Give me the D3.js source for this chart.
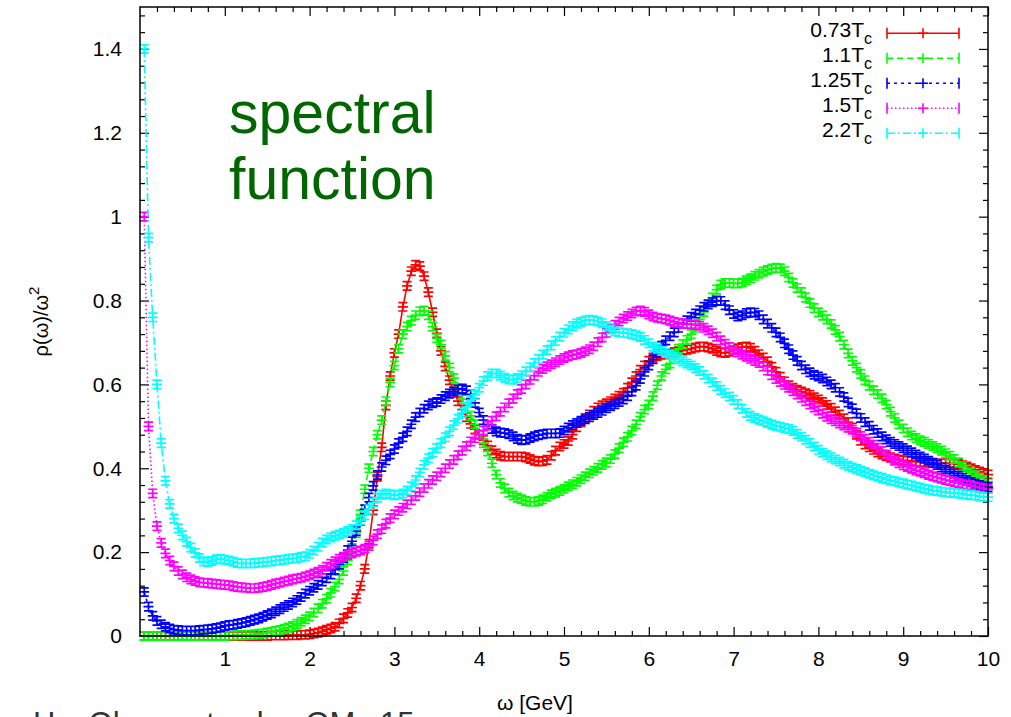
<!DOCTYPE html>
<html lang="en">
<head>
  <meta charset="UTF-8">
  <title>Spectral function at several temperatures</title>
  <script src="https://d3js.org/d3.v7.min.js" charset="utf-8"></script>
  <style>
    body { margin: 0; background: #fff; }
    text { font-family: "Liberation Sans", Arial, Helvetica, sans-serif; }
  </style>
</head>
<body>
<div id="chart"></div>
<script>

// omega grid [GeV], one row per GeV
var omega = [
  0.05,0.1,0.15,0.2,0.25,0.3,0.35,0.4,0.45,0.5,0.55,0.6,0.65,0.7,0.75,0.8,0.85,0.9,0.95,1.0,
  1.05,1.1,1.15,1.2,1.25,1.3,1.35,1.4,1.45,1.5,1.55,1.6,1.65,1.7,1.75,1.8,1.85,1.9,1.95,2.0,
  2.05,2.1,2.15,2.2,2.25,2.3,2.35,2.4,2.45,2.5,2.55,2.6,2.65,2.7,2.75,2.8,2.85,2.9,2.95,3.0,
  3.05,3.1,3.15,3.2,3.25,3.3,3.35,3.4,3.45,3.5,3.55,3.6,3.65,3.7,3.75,3.8,3.85,3.9,3.95,4.0,
  4.05,4.1,4.15,4.2,4.25,4.3,4.35,4.4,4.45,4.5,4.55,4.6,4.65,4.7,4.75,4.8,4.85,4.9,4.95,5.0,
  5.05,5.1,5.15,5.2,5.25,5.3,5.35,5.4,5.45,5.5,5.55,5.6,5.65,5.7,5.75,5.8,5.85,5.9,5.95,6.0,
  6.05,6.1,6.15,6.2,6.25,6.3,6.35,6.4,6.45,6.5,6.55,6.6,6.65,6.7,6.75,6.8,6.85,6.9,6.95,7.0,
  7.05,7.1,7.15,7.2,7.25,7.3,7.35,7.4,7.45,7.5,7.55,7.6,7.65,7.7,7.75,7.8,7.85,7.9,7.95,8.0,
  8.05,8.1,8.15,8.2,8.25,8.3,8.35,8.4,8.45,8.5,8.55,8.6,8.65,8.7,8.75,8.8,8.85,8.9,8.95,9.0,
  9.05,9.1,9.15,9.2,9.25,9.3,9.35,9.4,9.45,9.5,9.55,9.6,9.65,9.7,9.75,9.8,9.85,9.9,9.95,10.0
];

// rho(omega)/omega^2 for each temperature
var rhoT073 = [
  0,0,0,0,0,0,0,0,0,0,0,0,0,0,0,0,0,0,0,0,
  0,0,0,0,0,0,0,0,0,0,0.001,0.001,0.001,0.001,0.002,0.002,0.002,0.003,0.003,0.004,
  0.006,0.008,0.011,0.015,0.018,0.022,0.03,0.042,0.055,0.068,0.09,0.12,0.16,0.22,0.3,0.38,0.45,0.55,0.62,0.675,
  0.72,0.785,0.835,0.87,0.885,0.882,0.858,0.82,0.772,0.722,0.68,0.643,0.61,0.583,0.56,0.54,0.522,0.506,0.493,0.48,
  0.467,0.454,0.443,0.435,0.43,0.428,0.428,0.428,0.428,0.428,0.426,0.422,0.418,0.416,0.417,0.42,0.43,0.442,0.452,0.458,
  0.465,0.48,0.498,0.51,0.52,0.528,0.537,0.545,0.55,0.555,0.56,0.566,0.573,0.58,0.592,0.605,0.62,0.635,0.645,0.656,
  0.664,0.668,0.671,0.673,0.675,0.677,0.679,0.681,0.683,0.685,0.688,0.69,0.69,0.688,0.685,0.68,0.676,0.675,0.678,0.682,
  0.686,0.689,0.69,0.687,0.68,0.672,0.664,0.655,0.642,0.63,0.618,0.607,0.598,0.592,0.587,0.583,0.579,0.575,0.569,0.564,
  0.558,0.551,0.544,0.536,0.528,0.519,0.51,0.497,0.48,0.466,0.457,0.45,0.444,0.438,0.433,0.429,0.426,0.423,0.421,0.419,
  0.418,0.417,0.416,0.415,0.414,0.413,0.412,0.412,0.412,0.412,0.412,0.411,0.41,0.407,0.404,0.4,0.396,0.392,0.388,0.385
];
var rhoT110 = [
  0,0,0,0,0,0,0,0,0,0,0,0,0,0,0,0,0,0,0,0,
  0.001,0.001,0.002,0.002,0.003,0.003,0.004,0.005,0.006,0.008,0.01,0.012,0.014,0.017,0.02,0.024,0.029,0.034,0.04,0.047,
  0.056,0.066,0.077,0.089,0.103,0.118,0.135,0.155,0.18,0.21,0.245,0.29,0.35,0.4,0.44,0.48,0.515,0.56,0.605,0.645,
  0.685,0.72,0.738,0.752,0.765,0.774,0.776,0.765,0.738,0.71,0.695,0.668,0.64,0.615,0.59,0.565,0.545,0.525,0.505,0.48,
  0.46,0.44,0.412,0.385,0.365,0.352,0.342,0.335,0.33,0.326,0.322,0.32,0.32,0.322,0.326,0.332,0.338,0.342,0.346,0.351,
  0.357,0.362,0.368,0.374,0.381,0.388,0.394,0.401,0.408,0.414,0.422,0.434,0.448,0.462,0.475,0.49,0.505,0.523,0.54,0.552,
  0.572,0.598,0.62,0.636,0.65,0.67,0.685,0.696,0.706,0.72,0.735,0.755,0.773,0.79,0.807,0.826,0.838,0.842,0.842,0.841,
  0.841,0.843,0.848,0.853,0.859,0.864,0.869,0.873,0.876,0.878,0.877,0.87,0.855,0.842,0.83,0.82,0.807,0.794,0.782,0.772,
  0.764,0.755,0.744,0.73,0.714,0.695,0.674,0.656,0.64,0.625,0.61,0.597,0.586,0.577,0.567,0.552,0.535,0.52,0.505,0.495,
  0.486,0.478,0.472,0.467,0.463,0.458,0.453,0.448,0.442,0.436,0.43,0.422,0.414,0.405,0.397,0.39,0.383,0.377,0.372,0.368
];
var rhoT125 = [
  0.105,0.07,0.048,0.036,0.028,0.022,0.018,0.015,0.014,0.013,0.013,0.013,0.013,0.014,0.015,0.016,0.017,0.019,0.021,0.024,
  0.026,0.027,0.029,0.031,0.033,0.036,0.039,0.042,0.046,0.05,0.054,0.059,0.064,0.069,0.074,0.08,0.086,0.093,0.101,0.108,
  0.115,0.122,0.13,0.138,0.147,0.158,0.17,0.186,0.205,0.226,0.25,0.275,0.302,0.33,0.358,0.384,0.403,0.419,0.433,0.446,
  0.46,0.474,0.488,0.505,0.522,0.533,0.542,0.55,0.555,0.558,0.565,0.572,0.578,0.583,0.588,0.59,0.586,0.576,0.556,0.533,
  0.515,0.503,0.494,0.488,0.485,0.484,0.481,0.476,0.47,0.467,0.468,0.472,0.476,0.479,0.481,0.483,0.483,0.483,0.484,0.49,
  0.497,0.503,0.508,0.513,0.517,0.522,0.527,0.532,0.537,0.543,0.548,0.553,0.558,0.564,0.572,0.583,0.597,0.613,0.63,0.645,
  0.66,0.675,0.692,0.705,0.715,0.724,0.735,0.745,0.753,0.761,0.769,0.777,0.785,0.791,0.796,0.8,0.799,0.789,0.777,0.768,
  0.762,0.765,0.77,0.772,0.771,0.765,0.755,0.745,0.735,0.724,0.712,0.698,0.684,0.67,0.656,0.645,0.636,0.629,0.623,0.619,
  0.614,0.607,0.6,0.592,0.582,0.57,0.557,0.543,0.531,0.52,0.51,0.501,0.492,0.484,0.476,0.469,0.463,0.458,0.453,0.448,
  0.443,0.438,0.433,0.428,0.423,0.418,0.413,0.408,0.402,0.397,0.392,0.387,0.382,0.377,0.372,0.367,0.363,0.36,0.357,0.355
];
var rhoT150 = [
  1.0,0.5,0.34,0.262,0.222,0.197,0.18,0.166,0.155,0.147,0.14,0.135,0.131,0.128,0.127,0.126,0.125,0.124,0.123,0.122,
  0.121,0.119,0.117,0.116,0.115,0.114,0.114,0.115,0.117,0.119,0.122,0.125,0.127,0.13,0.132,0.135,0.137,0.139,0.142,0.145,
  0.149,0.153,0.158,0.165,0.172,0.178,0.184,0.189,0.193,0.197,0.201,0.204,0.208,0.215,0.228,0.243,0.255,0.268,0.281,0.29,
  0.298,0.306,0.314,0.324,0.334,0.343,0.353,0.363,0.372,0.381,0.39,0.4,0.41,0.42,0.431,0.442,0.453,0.464,0.472,0.48,
  0.49,0.502,0.513,0.524,0.535,0.545,0.555,0.566,0.577,0.589,0.6,0.611,0.621,0.63,0.637,0.643,0.648,0.653,0.658,0.663,
  0.667,0.67,0.672,0.675,0.679,0.684,0.691,0.701,0.712,0.723,0.733,0.742,0.75,0.757,0.763,0.769,0.774,0.776,0.773,0.767,
  0.762,0.759,0.757,0.755,0.752,0.749,0.747,0.745,0.744,0.743,0.742,0.74,0.735,0.729,0.722,0.714,0.705,0.697,0.689,0.682,
  0.676,0.671,0.666,0.661,0.656,0.651,0.643,0.633,0.622,0.613,0.606,0.599,0.592,0.584,0.576,0.568,0.56,0.552,0.545,0.538,
  0.53,0.523,0.517,0.512,0.507,0.502,0.497,0.492,0.485,0.477,0.47,0.463,0.456,0.449,0.441,0.433,0.425,0.418,0.412,0.407,
  0.403,0.399,0.395,0.392,0.388,0.384,0.381,0.378,0.375,0.372,0.37,0.367,0.365,0.362,0.36,0.358,0.356,0.354,0.352,0.351
];
var rhoT220 = [
  1.4,0.95,0.76,0.6,0.46,0.37,0.315,0.28,0.257,0.24,0.225,0.211,0.198,0.186,0.178,0.176,0.179,0.183,0.184,0.182,
  0.18,0.177,0.174,0.173,0.173,0.173,0.174,0.175,0.176,0.177,0.178,0.18,0.181,0.182,0.184,0.185,0.186,0.188,0.19,0.196,
  0.204,0.213,0.223,0.23,0.235,0.239,0.242,0.246,0.25,0.255,0.264,0.276,0.288,0.302,0.318,0.33,0.337,0.34,0.338,0.336,
  0.337,0.34,0.347,0.357,0.372,0.39,0.408,0.424,0.437,0.448,0.46,0.474,0.488,0.503,0.518,0.532,0.546,0.56,0.575,0.592,
  0.608,0.62,0.626,0.626,0.621,0.616,0.612,0.611,0.615,0.622,0.631,0.641,0.651,0.661,0.671,0.682,0.693,0.704,0.714,0.723,
  0.731,0.739,0.745,0.749,0.752,0.754,0.753,0.75,0.746,0.739,0.731,0.726,0.724,0.723,0.722,0.72,0.717,0.713,0.706,0.698,
  0.69,0.685,0.68,0.675,0.67,0.665,0.66,0.655,0.65,0.645,0.639,0.632,0.623,0.614,0.605,0.596,0.587,0.579,0.571,0.563,
  0.553,0.542,0.532,0.525,0.52,0.516,0.512,0.508,0.504,0.501,0.499,0.496,0.494,0.489,0.482,0.475,0.468,0.46,0.452,0.444,
  0.437,0.431,0.426,0.421,0.416,0.411,0.406,0.402,0.398,0.394,0.391,0.387,0.383,0.38,0.377,0.374,0.371,0.369,0.366,0.364,
  0.361,0.359,0.356,0.354,0.351,0.349,0.347,0.346,0.344,0.343,0.342,0.341,0.34,0.339,0.337,0.336,0.335,0.333,0.332,0.331
];

var tempLabels = ["0.73", "1.1", "1.25", "1.5", "2.2"];
var errBar = [0.01, 0.01, 0.01, 0.01, 0.01];
var xTicks = [1, 2, 3, 4, 5, 6, 7, 8, 9, 10];
var yTicks = [0, 0.2, 0.4, 0.6, 0.8, 1, 1.2, 1.4];
var yTickLabels = ["0", "0.2", "0.4", "0.6", "0.8", "1", "1.2", "1.4"];

var seriesData = [rhoT073, rhoT110, rhoT125, rhoT150, rhoT220];
var colors = ["#ff0000", "#00ff00", "#0000ff", "#ff00ff", "#00ffff"];
var dashes = [null, "6,4", "3,4", "1.5,2.5", "8,3,2,3"];

var width = 1011, height = 717;
var margin = {top: 7, right: 23, bottom: 81, left: 140};

var svg = d3.select('#chart').append('svg')
  .attr('width', width)
  .attr('height', height);

var x = d3.scaleLinear()
  .domain([0, 10])
  .range([margin.left, width - margin.right]);

var y = d3.scaleLinear()
  .domain([0, 1.5])
  .range([height - margin.bottom, margin.top]);

var xMinor = d3.range(0, 10.01, 0.2).filter(v => Math.abs(v - Math.round(v)) > 1e-6);
var yMinor = d3.range(0, 1.501, 0.04).filter(v => Math.abs(v * 5 - Math.round(v * 5)) > 1e-6);

function styleAxis(g) {
  g.select('.domain').remove();
  g.attr('font-size', 21).attr('font-family', null);
  g.selectAll('line').attr('stroke', '#000').attr('stroke-width', 1.2);
  g.selectAll('text').attr('fill', '#000');
}

// ticks on all four sides, pointing inward
svg.append('g')
  .attr('transform', 'translate(0,' + y(0) + ')')
  .call(d3.axisBottom(x).tickValues(xTicks).tickSize(-9).tickPadding(15).tickFormat(d3.format('d')))
  .call(styleAxis);
svg.append('g')
  .attr('transform', 'translate(0,' + y(0) + ')')
  .call(d3.axisBottom(x).tickValues(xMinor).tickSize(-5).tickFormat(''))
  .call(styleAxis);
svg.append('g')
  .attr('transform', 'translate(0,' + y(1.5) + ')')
  .call(d3.axisTop(x).tickValues(xTicks).tickSize(-9).tickFormat(''))
  .call(styleAxis);
svg.append('g')
  .attr('transform', 'translate(0,' + y(1.5) + ')')
  .call(d3.axisTop(x).tickValues(xMinor).tickSize(-5).tickFormat(''))
  .call(styleAxis);

svg.append('g')
  .attr('transform', 'translate(' + x(0) + ',0)')
  .call(d3.axisLeft(y).tickValues(yTicks).tickSize(-9).tickPadding(18)
    .tickFormat((d, i) => yTickLabels[i]))
  .call(styleAxis);
svg.append('g')
  .attr('transform', 'translate(' + x(0) + ',0)')
  .call(d3.axisLeft(y).tickValues(yMinor).tickSize(-5).tickFormat(''))
  .call(styleAxis);
svg.append('g')
  .attr('transform', 'translate(' + x(10) + ',0)')
  .call(d3.axisRight(y).tickValues(yTicks).tickSize(-9).tickFormat(''))
  .call(styleAxis);
svg.append('g')
  .attr('transform', 'translate(' + x(10) + ',0)')
  .call(d3.axisRight(y).tickValues(yMinor).tickSize(-5).tickFormat(''))
  .call(styleAxis);

// axis titles
svg.append('text')
  .attr('x', 535)
  .attr('y', 710)
  .attr('text-anchor', 'middle')
  .attr('font-size', 21)
  .text('ω [GeV]');

var ylab = svg.append('text')
  .attr('transform', 'translate(48,' + ((y(0) + y(1.5)) / 2) + ') rotate(-90)')
  .attr('text-anchor', 'middle')
  .attr('font-size', 20);
ylab.append('tspan').text('ρ(ω)/ω');
ylab.append('tspan').attr('dy', -9).attr('font-size', 15).text('2');

// annotation
var note = svg.append('text')
  .attr('fill', '#006600')
  .attr('font-size', 59);
note.append('tspan').attr('x', 229).attr('y', 133).text('spectral');
note.append('tspan').attr('x', 229).attr('y', 199).text('function');

// citation, cut by the bottom edge as in the original slide
svg.append('text')
  .attr('x', 33)
  .attr('y', 734)
  .attr('font-size', 31)
  .attr('fill', '#333')
  .attr('word-spacing', 16)
  .text('H. Ohno et al., QM 15');

// curves: connecting line, error bars with caps, "+" markers
var line = d3.line()
  .x((d, i) => x(omega[i]))
  .y(d => y(d));

function barsPath(vals, err) {
  var p = d3.path();
  vals.forEach(function(v, i) {
    var px = x(omega[i]), lo = y(v - err), hi = y(v + err), py = y(v);
    p.moveTo(px, lo); p.lineTo(px, hi);
    p.moveTo(px - 4.5, lo); p.lineTo(px + 4.5, lo);
    p.moveTo(px - 4.5, hi); p.lineTo(px + 4.5, hi);
    p.moveTo(px - 5, py); p.lineTo(px + 5, py);
    p.moveTo(px, py - 5); p.lineTo(px, py + 5);
  });
  return p.toString();
}

seriesData.forEach(function(vals, k) {
  var g = svg.append('g').attr('class', 'series');
  g.append('path')
    .datum(vals)
    .attr('fill', 'none')
    .attr('stroke', colors[k])
    .attr('stroke-width', 1.6)
    .attr('stroke-dasharray', dashes[k])
    .attr('d', line);
  g.append('path')
    .attr('fill', 'none')
    .attr('stroke', colors[k])
    .attr('stroke-width', 1.7)
    .attr('d', barsPath(vals, errBar[k]));
});

// frame
svg.append('rect')
  .attr('x', x(0))
  .attr('y', y(1.5))
  .attr('width', x(10) - x(0))
  .attr('height', y(0) - y(1.5))
  .attr('fill', 'none')
  .attr('stroke', '#000')
  .attr('stroke-width', 1.5);

// legend
var legend = svg.append('g');
tempLabels.forEach(function(lab, k) {
  var ly = 33.3 + k * 25;
  var t = legend.append('text')
    .attr('x', 872)
    .attr('y', ly + 4)
    .attr('text-anchor', 'end')
    .attr('font-size', 21);
  t.append('tspan').text(lab + 'T');
  t.append('tspan').attr('dy', 7).attr('font-size', 16).text('c');

  legend.append('line')
    .attr('x1', 887).attr('x2', 959)
    .attr('y1', ly).attr('y2', ly)
    .attr('stroke', colors[k])
    .attr('stroke-width', 1.6)
    .attr('stroke-dasharray', dashes[k]);
  var p = d3.path();
  p.moveTo(887, ly - 5.5); p.lineTo(887, ly + 5.5);
  p.moveTo(959, ly - 5.5); p.lineTo(959, ly + 5.5);
  p.moveTo(923, ly - 5); p.lineTo(923, ly + 5);
  p.moveTo(918, ly); p.lineTo(928, ly);
  legend.append('path')
    .attr('fill', 'none')
    .attr('stroke', colors[k])
    .attr('stroke-width', 1.6)
    .attr('d', p.toString());
});

</script>
</body>
</html>
